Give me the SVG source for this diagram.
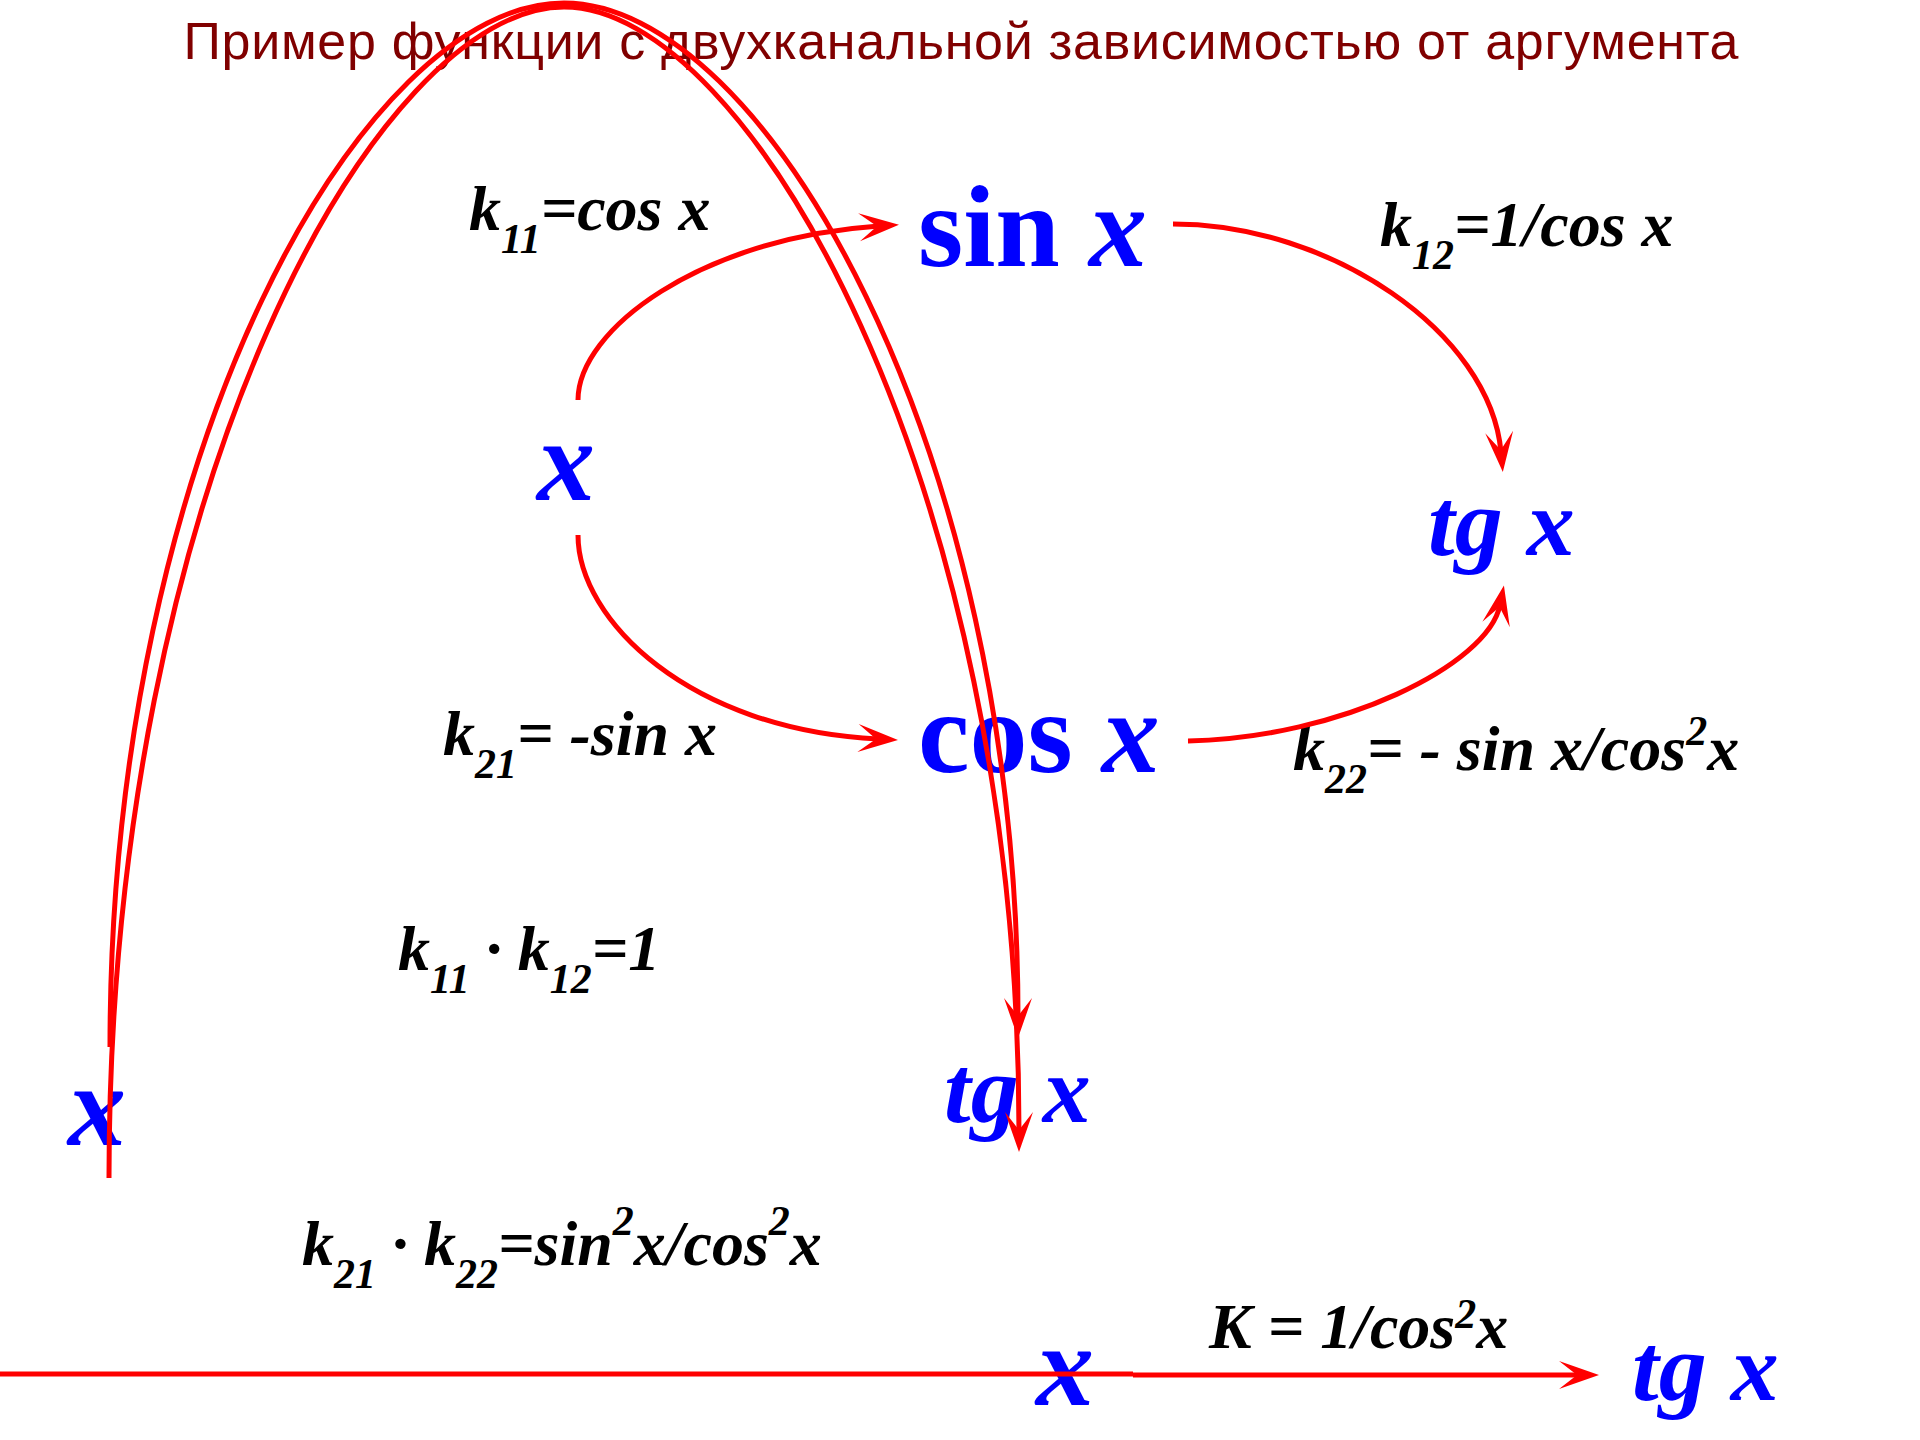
<svg xmlns="http://www.w3.org/2000/svg" width="1920" height="1440" viewBox="0 0 1920 1440">
<style>
.title{font-family:"Liberation Sans",Arial,sans-serif;font-size:52px;fill:#800000}
.lbl{font-family:"Liberation Serif","Times New Roman",serif;font-weight:bold;font-style:italic;font-size:64px;fill:#000}
.sub{font-size:42px}
.node{font-family:"Liberation Serif","Times New Roman",serif;font-weight:bold;fill:#0000FF;font-size:116px}
.it{font-style:italic}
.tg{font-size:96px;font-style:italic}
.conn{fill:none;stroke:#FF0000;stroke-width:5}
</style>
<defs>
<marker id="ah" markerUnits="userSpaceOnUse" viewBox="-42 -16 44 32" refX="-20" refY="0" markerWidth="44" markerHeight="32" orient="auto" overflow="visible">
<path d="M0,0 L-40,-14 L-22,0 L-40,14 Z" fill="#FF0000"/>
</marker>
</defs>
<rect width="1920" height="1440" fill="#FFFFFF"/>
<text id="title" class="title" x="961" y="59" text-anchor="middle" textLength="1555" lengthAdjust="spacing">Пример функции с двухканальной зависимостью от аргумента</text>
<g id="labels">
<text id="k11" class="lbl" x="469" y="230">k<tspan class="sub" dy="23">11</tspan><tspan dy="-23">=cos x</tspan></text>
<text id="k12" class="lbl" x="1380" y="246">k<tspan class="sub" dy="23">12</tspan><tspan dy="-23">=1/cos x</tspan></text>
<text id="k21" class="lbl" x="443" y="755">k<tspan class="sub" dy="23">21</tspan><tspan dy="-23">= -sin x</tspan></text>
<text id="k22" class="lbl" x="1293" y="770">k<tspan class="sub" dy="23">22</tspan><tspan dy="-23">= - sin x/cos</tspan><tspan class="sub" dy="-25">2</tspan><tspan dy="25">x</tspan></text>
<text id="prod1" class="lbl" x="398" y="970">k<tspan class="sub" dy="23">11</tspan><tspan dy="-23"> · k</tspan><tspan class="sub" dy="23">12</tspan><tspan dy="-23">=1</tspan></text>
<text id="prod2" class="lbl" x="302" y="1265">k<tspan class="sub" dy="23">21</tspan><tspan dy="-23"> · k</tspan><tspan class="sub" dy="23">22</tspan><tspan dy="-23">=sin</tspan><tspan class="sub" dy="-30">2</tspan><tspan dy="30">x/cos</tspan><tspan class="sub" dy="-30">2</tspan><tspan dy="30">x</tspan></text>
<text id="Ktot" class="lbl" x="1209" y="1348">K = 1/cos<tspan class="sub" dy="-20">2</tspan><tspan dy="20">x</tspan></text>
</g>
<g id="nodes">
<g id="n-x"><text class="node it" x="537" y="500">x</text></g>
<g id="n-sin"><text class="node" x="918" y="266">sin <tspan class="it">x</tspan></text></g>
<g id="n-cos"><text class="node" x="918" y="772">cos <tspan class="it">x</tspan></text></g>
<g id="n-tg1"><text class="node tg" x="1428" y="555">tg x</text></g>
<g id="n-x2"><text class="node it" x="68" y="1145">x</text></g>
<g id="n-tg2"><text class="node tg" x="944" y="1122">tg x</text></g>
<g id="n-x3"><text class="node it" x="1036" y="1405">x</text></g>
<g id="n-tg3"><text class="node tg" x="1632" y="1400">tg x</text></g>
</g>
<g id="connectors">
<path class="conn" d="M578,400 C578,330 700,238 879,226" marker-end="url(#ah)"/>
<path class="conn" d="M1173,224 C1330,224 1490,332 1501,452" marker-end="url(#ah)"/>
<path class="conn" d="M578,535 C578,620 690,730 878,739" marker-end="url(#ah)"/>
<path class="conn" d="M1188,741 C1340,738 1488,665 1500,605" marker-end="url(#ah)"/>
<path class="conn" d="M110,1047 C110,447 364,3 564,3 C764,3 1018,447 1018,1018" marker-end="url(#ah)"/>
<path class="conn" d="M109,1178 C109,480 380,7 564,7 C748,7 1019,480 1019,1132" marker-end="url(#ah)"/>
<path class="conn" d="M0,1374 H1133" stroke-width="7"/>
<path class="conn" d="M1133,1375 H1579" marker-end="url(#ah)"/>
</g>
</svg>
